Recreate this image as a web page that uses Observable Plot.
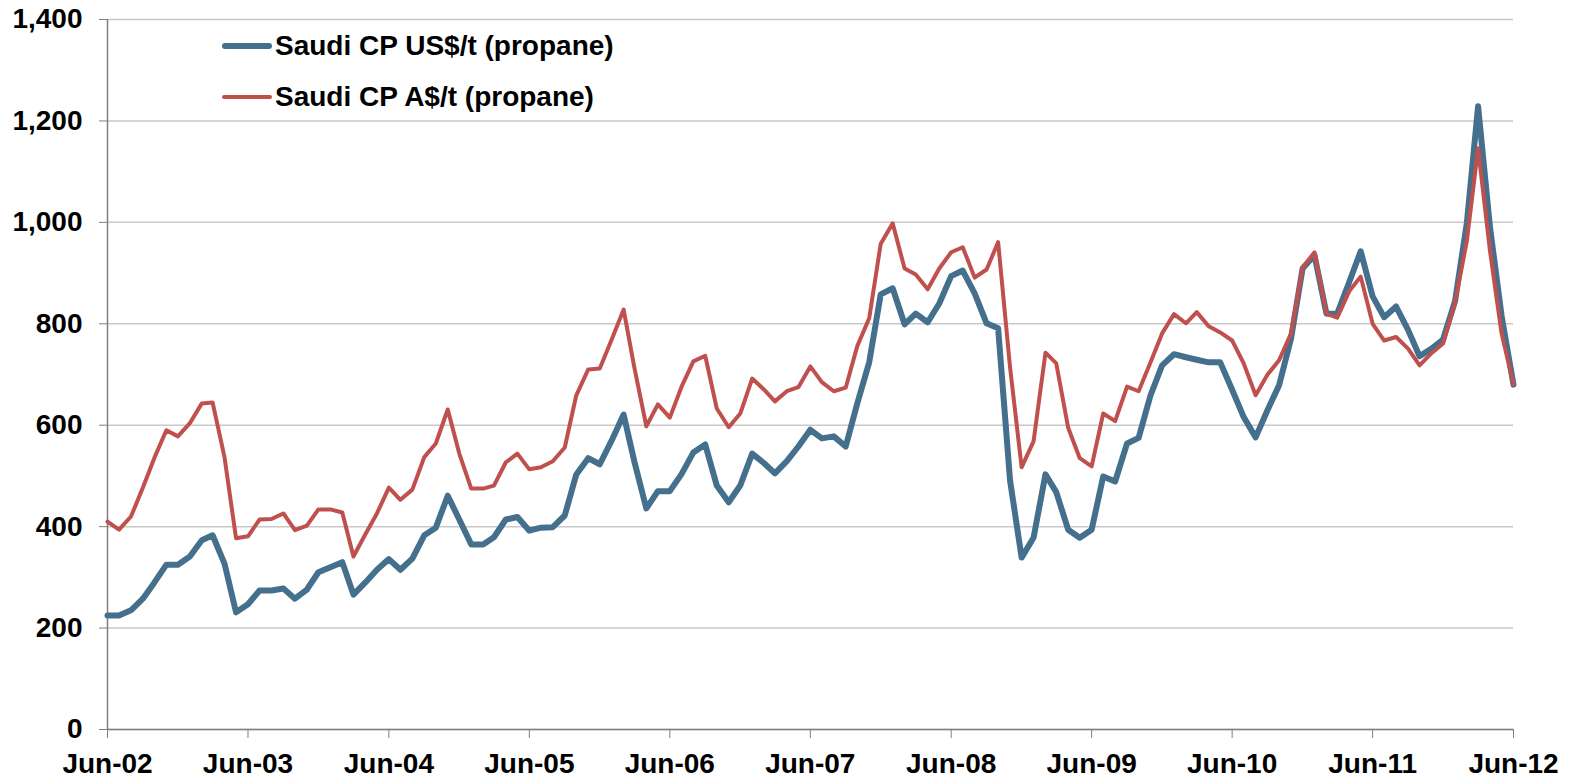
<!DOCTYPE html>
<html>
<head>
<meta charset="utf-8">
<script src="https://cdn.jsdelivr.net/npm/d3@7"></script>
<script src="https://cdn.jsdelivr.net/npm/@observablehq/plot@0.6"></script>
<style>
  html, body { margin: 0; padding: 0; background: #fff; }
  #wrap { position: relative; width: 1570px; height: 778px; font-family: "Liberation Sans", Arial, sans-serif; }
  #legend { position: absolute; left: 222px; top: 20px; font-weight: bold; font-size: 28px; color: #000; }
  .item { display: flex; align-items: center; height: 51px; }
  .swatch { width: 50px; border-radius: 3px; margin-right: 3px; }
</style>
</head>
<body>
<div id="wrap">
  <div id="legend"></div>
</div>
<script>
// Monthly observations, Jun-2002 .. Jun-2012
const startMonth = "2002-06-01";
const monthCount = 121;
const seriesNames = ["Saudi CP US$/t (propane)", "Saudi CP A$/t (propane)"];
const seriesColors = ["#45708d", "#c0504d"];
const seriesWidths = [6, 4];

const usdValues = [
  225, 225, 235, 258, 290, 325, 325, 341, 373, 383, 327, 231,
  247, 274, 274, 278, 258, 276, 310, 320, 330, 266, 290, 315,
  336, 315, 337, 383, 398, 461, 414, 365, 365, 379, 414, 419,
  392, 398, 399, 422, 503, 535, 523, 570, 621, 528, 436, 470,
  470, 503, 546, 562, 481, 448, 481, 544, 525, 505, 529, 558,
  591, 574, 578, 558, 643, 724, 858, 870, 799, 820, 803, 840,
  894, 905, 860, 801, 791, 491, 339, 378, 503, 468, 394, 378,
  394, 499, 489, 564, 575, 659, 718, 740, 734, 729, 724, 724,
  670, 616, 576, 630, 679, 771, 909, 935, 820, 820, 882, 943,
  854, 813, 834, 788, 736, 751, 769, 844, 1000, 1229, 990, 816,
  680
];
const audValues = [
  410, 394, 420, 477, 536, 590, 578, 604, 643, 645, 537, 377,
  381, 414, 415, 426, 393, 402, 434, 434, 428, 341, 385, 426,
  477, 453, 473, 537, 564, 631, 544, 475, 475, 481, 527, 544,
  513, 517, 529, 556, 659, 710, 712, 769, 828, 713, 598, 641,
  615, 675, 726, 737, 633, 596, 623, 692, 670, 647, 667, 675,
  716, 685, 667, 674, 756, 811, 958, 998, 909, 897, 868, 909,
  941, 951, 891, 907, 961, 714, 517, 568, 743, 722, 595, 535,
  519, 623, 608, 676, 667, 724, 781, 819, 801, 823, 795, 783,
  767, 722, 659, 700, 728, 781, 911, 941, 820, 812, 864, 893,
  800, 767, 774, 751, 718, 742, 761, 841, 964, 1146, 943, 781,
  680
];
const yTicks = [0, 200, 400, 600, 800, 1000, 1200, 1400];
const xTickYears = [2002, 2003, 2004, 2005, 2006, 2007, 2008, 2009, 2010, 2011, 2012];

const start = new Date(startMonth + "T00:00:00Z");
const months = d3.range(monthCount).map(i => d3.utcMonth.offset(start, i));
const xTicks = xTickYears.map(y => new Date(Date.UTC(y, 5, 1)));
const usd = months.map((d, i) => ({date: d, value: usdValues[i]}));
const aud = months.map((d, i) => ({date: d, value: audValues[i]}));

const chart = Plot.plot({
  width: 1570,
  height: 778,
  marginLeft: 107,
  marginRight: 57,
  marginTop: 19,
  marginBottom: 49,
  style: {
    fontFamily: "'Liberation Sans', Arial, sans-serif",
    fontWeight: "bold",
    fontSize: "28px",
    color: "#000",
    background: "transparent",
    overflow: "visible"
  },
  x: {type: "utc", domain: [months[0], months[monthCount - 1]]},
  y: {domain: [0, 1400]},
  marks: [
    Plot.gridY(yTicks, {stroke: "#c9c9c9", strokeOpacity: 1, strokeWidth: 1.5}),
    Plot.axisY(yTicks, {tickFormat: d3.format(","), tickSize: 8, tickPadding: 17, stroke: "#7f7f7f", fill: "#000", label: null}),
    Plot.axisX(xTicks, {tickFormat: d3.utcFormat("%b-%y"), tickSize: 9, tickPadding: 15, stroke: "#7f7f7f", fill: "#000", label: null}),
    Plot.ruleX([months[0]], {stroke: "#7f7f7f", strokeWidth: 1.5}),
    Plot.ruleY([0], {stroke: "#7f7f7f", strokeWidth: 1.5}),
    Plot.lineY(usd, {x: "date", y: "value", stroke: seriesColors[0], strokeWidth: seriesWidths[0]}),
    Plot.lineY(aud, {x: "date", y: "value", stroke: seriesColors[1], strokeWidth: seriesWidths[1]})
  ]
});
const wrap = document.getElementById("wrap");
wrap.insertBefore(chart, wrap.firstChild);

const legend = document.getElementById("legend");
seriesNames.forEach((name, i) => {
  const item = document.createElement("div");
  item.className = "item";
  const sw = document.createElement("span");
  sw.className = "swatch";
  sw.style.height = seriesWidths[i] + "px";
  sw.style.background = seriesColors[i];
  const label = document.createElement("span");
  label.textContent = name;
  item.appendChild(sw);
  item.appendChild(label);
  legend.appendChild(item);
});
</script>
</body>
</html>
